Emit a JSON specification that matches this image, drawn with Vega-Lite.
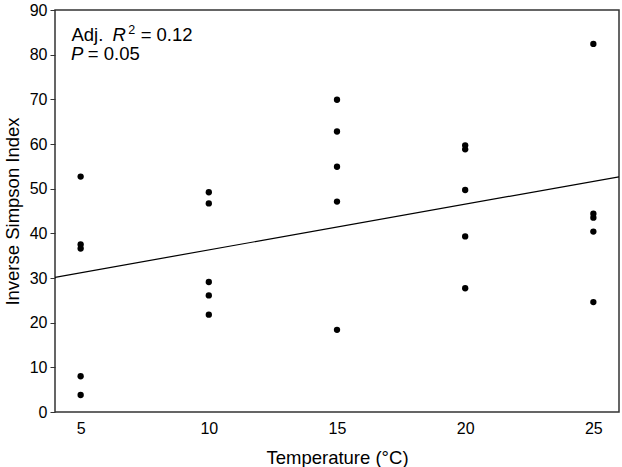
{
  "$schema": "https://vega.github.io/schema/vega-lite/v6.json",
  "width": 564,
  "height": 402,
  "autosize": {"type": "none"},
  "padding": {"left": 55, "top": 10, "right": 3, "bottom": 55},
  "background": "white",
  "config": {
    "font": "Liberation Sans",
    "view": {"stroke": "#333333", "strokeWidth": 1.5},
    "axis": {"grid": false, "domain": false, "labelColor": "#000000", "titleColor": "#000000", "labelFont": "Liberation Sans", "titleFont": "Liberation Sans", "titleFontWeight": "normal"}
  },
  "datasets": {
    "obs": [
      {"temp": 5, "isi": 52.7}, {"temp": 5, "isi": 37.5}, {"temp": 5, "isi": 36.6}, {"temp": 5, "isi": 8.0}, {"temp": 5, "isi": 3.8},
      {"temp": 10, "isi": 49.2}, {"temp": 10, "isi": 46.7}, {"temp": 10, "isi": 29.1}, {"temp": 10, "isi": 26.1}, {"temp": 10, "isi": 21.8},
      {"temp": 15, "isi": 69.9}, {"temp": 15, "isi": 62.8}, {"temp": 15, "isi": 54.9}, {"temp": 15, "isi": 47.1}, {"temp": 15, "isi": 18.4},
      {"temp": 20, "isi": 59.7}, {"temp": 20, "isi": 58.8}, {"temp": 20, "isi": 49.7}, {"temp": 20, "isi": 39.3}, {"temp": 20, "isi": 27.7},
      {"temp": 25, "isi": 82.4}, {"temp": 25, "isi": 44.4}, {"temp": 25, "isi": 43.5}, {"temp": 25, "isi": 40.4}, {"temp": 25, "isi": 24.6}
    ],
    "one": [{"k": 1}]
  },
  "layer": [
    {
      "data": {"name": "obs"},
      "mark": {"type": "point", "filled": true, "color": "#000000", "size": 40, "opacity": 1},
      "encoding": {
        "x": {
          "field": "temp", "type": "quantitative",
          "scale": {"domain": [4, 26], "nice": false, "zero": false},
          "axis": {"values": [5, 10, 15, 20, 25], "ticks": false, "labelFontSize": 16, "labelPadding": 8, "title": "Temperature (°C)", "titleFontSize": 18.5, "titlePadding": 12}
        },
        "y": {
          "field": "isi", "type": "quantitative",
          "scale": {"domain": [0, 90], "nice": false},
          "axis": {"values": [0, 10, 20, 30, 40, 50, 60, 70, 80, 90], "ticks": true, "tickSize": 5, "tickColor": "#333333", "labelFontSize": 16, "labelPadding": 3, "title": "Inverse Simpson Index", "titleFontSize": 18.5, "titlePadding": 7}
        }
      }
    },
    {
      "data": {"name": "obs"},
      "transform": [{"regression": "isi", "on": "temp", "extent": [4, 26]}],
      "mark": {"type": "line", "color": "#000000", "strokeWidth": 1.2, "clip": true},
      "encoding": {
        "x": {"field": "temp", "type": "quantitative"},
        "y": {"field": "isi", "type": "quantitative"}
      }
    },
    {
      "data": {"name": "one"},
      "mark": {"type": "text", "text": "Adj.", "align": "left", "baseline": "alphabetic", "fontSize": 18.5, "color": "#000000"},
      "encoding": {"x": {"datum": 4.64}, "y": {"datum": 82.95}}
    },
    {
      "data": {"name": "one"},
      "mark": {"type": "text", "text": "R", "align": "left", "baseline": "alphabetic", "fontSize": 18.5, "fontStyle": "italic", "color": "#000000"},
      "encoding": {"x": {"datum": 6.24}, "y": {"datum": 82.95}}
    },
    {
      "data": {"name": "one"},
      "mark": {"type": "text", "text": "2", "align": "left", "baseline": "alphabetic", "fontSize": 12.5, "color": "#000000"},
      "encoding": {"x": {"datum": 6.86}, "y": {"datum": 84.6}}
    },
    {
      "data": {"name": "one"},
      "mark": {"type": "text", "text": "= 0.12", "align": "left", "baseline": "alphabetic", "fontSize": 18.5, "color": "#000000"},
      "encoding": {"x": {"datum": 7.34}, "y": {"datum": 82.95}}
    },
    {
      "data": {"name": "one"},
      "mark": {"type": "text", "text": "P", "align": "left", "baseline": "alphabetic", "fontSize": 18.5, "fontStyle": "italic", "color": "#000000"},
      "encoding": {"x": {"datum": 4.62}, "y": {"datum": 78.7}}
    },
    {
      "data": {"name": "one"},
      "mark": {"type": "text", "text": "= 0.05", "align": "left", "baseline": "alphabetic", "fontSize": 18.5, "color": "#000000"},
      "encoding": {"x": {"datum": 5.28}, "y": {"datum": 78.7}}
    }
  ]
}
